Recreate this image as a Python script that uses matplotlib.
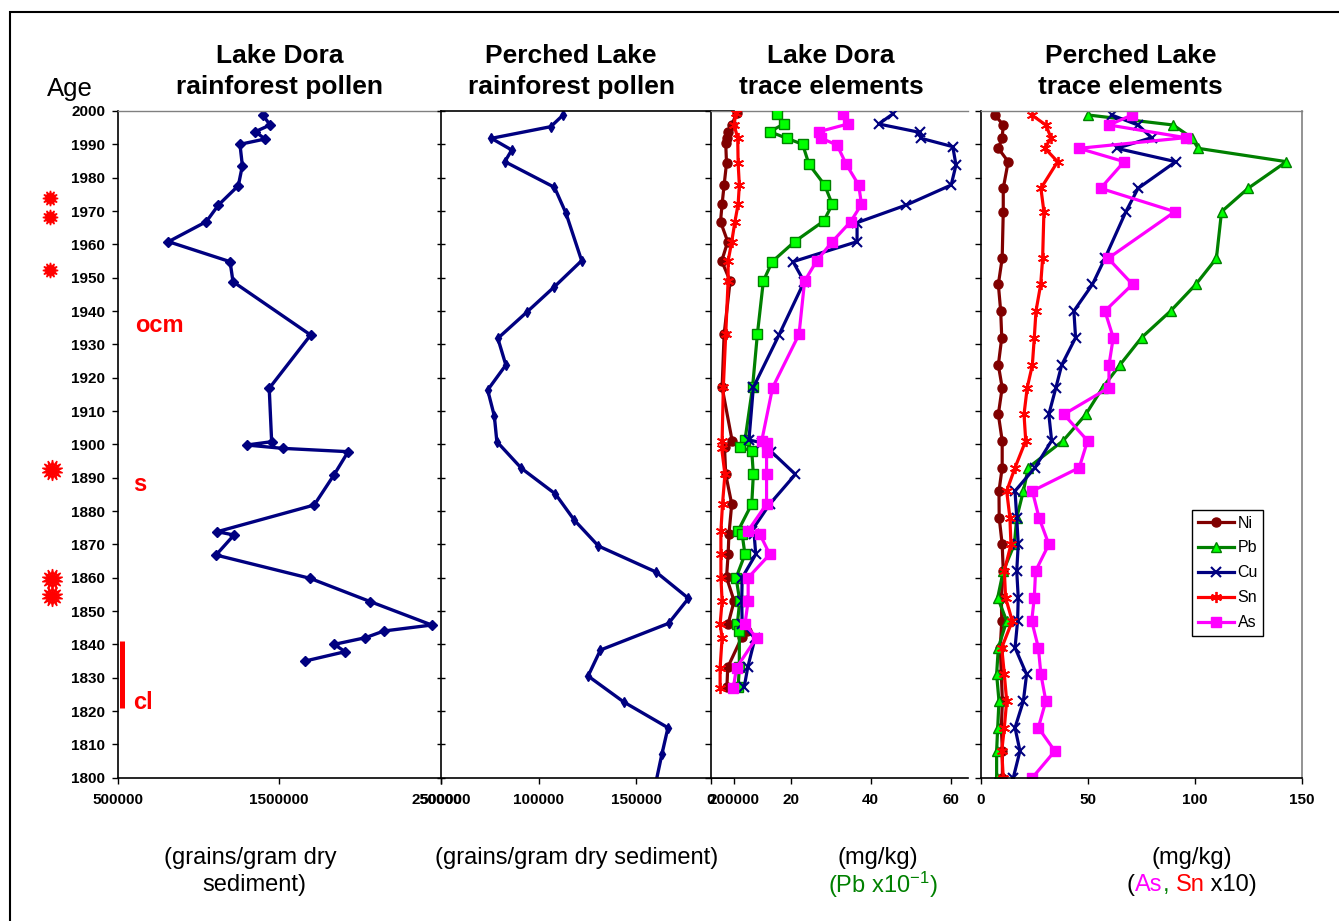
import matplotlib
matplotlib.use("Agg")
import matplotlib.pyplot as plt
from matplotlib.transforms import blended_transform_factory
from matplotlib.patches import Rectangle

plt.rcParams['font.family'] = ['Liberation Sans', 'DejaVu Sans']
plt.rcParams['mathtext.default'] = 'regular'

# ── Lake Dora rainforest pollen (grains/gram dry sediment) ──────────────
dora_pollen_year = [1998.8, 1995.8, 1993.8, 1991.6, 1990.0, 1983.6, 1977.6, 1971.8,
                    1966.8, 1960.8, 1954.8, 1948.8, 1932.8, 1916.8, 1900.8, 1899.8,
                    1898.8, 1897.8, 1890.8, 1881.8, 1873.8, 1872.8, 1866.8, 1859.8,
                    1852.8, 1845.8, 1844.0, 1842.0, 1840.0, 1837.8, 1835.0]
dora_pollen = [1399000, 1443000, 1352000, 1412000, 1257000, 1272000, 1247000, 1124000,
               1049000, 815000, 1196000, 1214000, 1694000, 1438000, 1453000, 1299000,
               1521000, 1926000, 1838000, 1716000, 1117000, 1220000, 1109000, 1691000,
               2064000, 2443000, 2146000, 2033000, 1840000, 1907000, 1660000]

# ── Perched Lake rainforest pollen ──────────────────────────────────────
perched_pollen_year = [1998.8, 1995.3, 1991.8, 1988.3, 1984.8, 1977.1, 1969.3, 1955.1,
                       1947.3, 1939.6, 1931.8, 1923.8, 1916.3, 1908.5, 1900.8, 1892.8,
                       1885.1, 1877.3, 1869.5, 1861.7, 1853.8, 1846.3, 1838.3, 1830.5,
                       1822.7, 1815.0, 1807.1, 1795.0]
perched_pollen = [112500, 106200, 75800, 86200, 82700, 108100, 114000, 122000,
                  108100, 93800, 79100, 83200, 73900, 77300, 78600, 91200,
                  108600, 118200, 130600, 160100, 176700, 166500, 131600, 125300,
                  143600, 166200, 163100, 158700]

# ── Lake Dora trace elements (mg/kg, Pb x10^-1) ─────────────────────────
dora_ni_year = [1999.3, 1995.8, 1993.8, 1991.8, 1990.3, 1984.3, 1977.8, 1972.1, 1966.8,
                1960.8, 1955.0, 1949.0, 1933.0, 1917.1, 1901.1, 1899.1, 1891.0, 1882.1,
                1873.0, 1867.0, 1860.1, 1853.0, 1846.1, 1844.1, 1842.1, 1833.1, 1827.1]
dora_ni = [6.5, 5.3, 4.3, 4.0, 3.8, 4.0, 3.4, 2.9, 2.5,
           4.3, 2.8, 4.9, 3.4, 2.9, 5.4, 3.5, 3.8, 5.3,
           4.6, 4.4, 4.0, 5.9, 4.4, 9.0, 7.8, 4.3, 4.1]

dora_pb_year = [1999.1, 1996.1, 1993.8, 1991.8, 1990.0, 1984.0, 1977.8, 1972.0, 1967.0,
                1960.8, 1954.8, 1949.0, 1933.0, 1917.1, 1901.2, 1899.1, 1898.1, 1891.0,
                1882.1, 1874.1, 1873.1, 1867.0, 1860.0, 1853.0, 1846.1, 1844.1, 1833.1,
                1827.1]
dora_pb = [16.7, 18.3, 14.8, 19.1, 23.0, 24.6, 28.5, 30.4, 28.3,
           21.0, 15.4, 13.2, 11.7, 10.5, 8.6, 7.3, 10.3, 10.7,
           10.3, 6.9, 7.9, 8.6, 6.4, 7.3, 6.7, 7.2, 7.2, 6.9]

dora_cu_year = [1999.1, 1996.1, 1993.6, 1991.8, 1989.3, 1983.8, 1977.8, 1971.8, 1966.5,
                1960.8, 1954.8, 1948.8, 1932.8, 1917.1, 1901.3, 1900.5, 1897.8, 1891.0,
                1882.1, 1874.1, 1873.0, 1867.0, 1860.0, 1853.0, 1846.1, 1841.8, 1833.1,
                1827.1]
dora_cu = [45.5, 42.0, 52.2, 52.6, 60.5, 61.3, 60.1, 48.9, 36.6,
           36.6, 20.6, 23.4, 17.1, 10.7, 9.6, 12.8, 15.2, 21.2,
           14.8, 10.3, 10.9, 11.3, 7.9, 7.8, 7.9, 11.1, 9.3, 8.4]

dora_sn_year = [1999.3, 1995.8, 1991.8, 1984.3, 1977.8, 1972.1, 1966.8, 1960.8, 1955.0,
                1949.0, 1933.0, 1917.1, 1901.1, 1898.8, 1891.0, 1882.1, 1874.0, 1867.0,
                1860.0, 1853.0, 1846.0, 1842.0, 1833.0, 1827.0]
dora_sn = [6.3, 5.9, 6.8, 6.9, 7.2, 6.9, 6.1, 5.3, 4.4,
           4.4, 3.8, 3.2, 2.9, 2.8, 3.6, 3.0, 2.6, 2.6,
           2.6, 2.9, 2.4, 2.9, 2.4, 2.4]

dora_as_year = [1999.1, 1996.1, 1993.8, 1991.8, 1989.8, 1984.0, 1977.8, 1972.0, 1966.8,
                1960.8, 1955.0, 1949.0, 1933.0, 1917.0, 1901.1, 1900.5, 1897.8, 1891.0,
                1882.1, 1874.1, 1873.1, 1867.0, 1860.0, 1853.0, 1846.0, 1842.0, 1833.0,
                1827.0]
dora_as = [33.1, 34.3, 27.1, 27.7, 31.6, 33.9, 37.0, 37.7, 35.0,
           30.4, 26.5, 23.5, 22.1, 15.5, 12.8, 14.0, 14.0, 14.0,
           14.0, 9.4, 12.3, 14.8, 9.4, 9.4, 8.6, 11.5, 6.5, 5.7]

# ── Perched Lake trace elements (mg/kg, As and Sn x10) ──────────────────
perched_year = [1998.8, 1995.8, 1992.0, 1988.8, 1984.8, 1976.8, 1969.8, 1955.8, 1948.0,
                1940.0, 1932.0, 1923.8, 1917.0, 1909.0, 1901.1, 1893.0, 1886.0, 1878.0,
                1870.0, 1862.0, 1854.0, 1847.0, 1839.0, 1831.0, 1823.0, 1815.0, 1808.0,
                1800.0]
perched_ni = [6.5, 10.4, 9.9, 8.1, 12.7, 10.4, 10.4, 9.9, 8.1,
              9.2, 9.7, 8.1, 9.9, 8.1, 9.9, 9.9, 8.4, 8.5,
              9.9, 10.4, 9.5, 9.7, 9.0, 9.5, 10.0, 9.5, 10.0, 10.0]
perched_pb = [50.1, 89.8, 98.4, 101.5, 142.7, 124.8, 112.4, 110.0, 100.4,
              88.6, 75.0, 64.9, 56.8, 49.0, 38.4, 22.1, 19.8, 16.7,
              15.6, 10.4, 7.8, 12.0, 8.1, 7.3, 8.4, 7.8, 7.3, 7.3]
perched_cu = [61.0, 73.4, 79.7, 63.4, 91.0, 73.4, 67.7, 57.9, 52.1,
              43.4, 44.2, 37.7, 35.0, 31.7, 33.0, 25.2, 15.9, 16.7,
              17.4, 16.7, 17.4, 17.1, 15.9, 21.3, 19.8, 15.9, 18.2, 15.1]
perched_sn = [23.7, 30.3, 32.7, 29.9, 35.8, 28.0, 29.4, 28.8, 27.9,
              25.7, 24.9, 24.0, 21.6, 20.1, 20.9, 15.9, 12.0, 13.5,
              14.0, 10.9, 11.5, 14.6, 9.7, 10.9, 12.0, 10.9, 9.7, 10.4]
perched_as = [70.6, 59.8, 95.6, 45.8, 66.9, 55.9, 90.6, 59.4, 70.8,
              57.9, 61.8, 59.8, 59.8, 38.7, 49.8, 45.9, 24.0, 27.1,
              31.7, 25.5, 24.9, 23.7, 26.8, 28.0, 30.3, 26.8, 34.5, 24.0]

# event markers on the age axis
star_years_small = [1973.9, 1968.2, 1952.2]
star_years_big = [1892.2, 1859.7, 1854.4]
cl_range = [1841, 1821]

age_ticks = list(range(1800, 2001, 10))
p1_ticks = [500000, 1500000, 2500000]
p1_labels = ["500000", "1500000", "2500000"]
p2_ticks = [50000, 100000, 150000, 200000]
p2_labels = ["50000", "100000", "150000", "200000"]
p3_ticks = [0, 20, 40, 60]
p4_ticks = [0, 50, 100, 150]

# ── Figure layout (pixel geometry of the original) ──────────────────────
W, H = 1339, 921
NAVY, DKRED, GREEN, LIME, MAG, RED = "#000080", "#800000", "#008000", "#00FF00", "#FF00FF", "#FF0000"
GREY = "#808080"


def fx(px):
    return px / W


def fy(py):
    return 1 - py / H


fig = plt.figure(figsize=(W / 100, H / 100), dpi=100)
TOP, BOT = 111, 777.7


def add_panel(x0, x1):
    return fig.add_axes([fx(x0), fy(BOT), (x1 - x0) / W, (BOT - TOP) / H])


ax1 = add_panel(117.5, 441)
ax2 = add_panel(441, 734)
ax3 = add_panel(710.5, 968)
ax4 = add_panel(981, 1302)

for ax in (ax1, ax2, ax3, ax4):
    ax.set_ylim(1800, 2000)
    ax.set_yticks(age_ticks)
    ax.set_facecolor("white")
    ax.tick_params(axis="x", direction="out", length=4, width=1, pad=7, labelsize=11)
    ax.tick_params(axis="y", direction="out", length=4, width=1, labelsize=11)
    for s in ax.spines.values():
        s.set_linewidth(1.2)

# Panel 1
ax1.plot(dora_pollen, dora_pollen_year, "-D", color=NAVY, lw=2.4, ms=5.5)
ax1.set_xlim(500000, 2500000)
ax1.set_xticks(p1_ticks)
ax1.set_xticklabels(p1_labels)
ax1.spines["right"].set_visible(False)
ax1.spines["top"].set_color(GREY)
ax1.spines["top"].set_linewidth(1)
ax1.tick_params(axis="y", pad=5)
for lab in ax1.get_xticklabels() + ax1.get_yticklabels():
    lab.set_fontweight("bold")

# Panel 2
ax2.plot(perched_pollen, perched_pollen_year, "-d", color=NAVY, lw=2.4, ms=5.5)
ax2.set_xlim(50000, 200000)
ax2.set_xticks(p2_ticks)
ax2.set_xticklabels(p2_labels)
ax2.tick_params(axis="y", direction="inout", labelleft=False, length=6)
ax2.spines["right"].set_visible(False)
for lab in ax2.get_xticklabels():
    lab.set_fontweight("bold")
    lab.set_fontsize(11)
    lab.set_family(["Liberation Sans Narrow", "Liberation Sans"])

# Panel 3
ax3.plot(dora_ni, dora_ni_year, "-o", color=DKRED, lw=2.3, ms=6.5, zorder=3)
ax3.plot(dora_pb, dora_pb_year, "-s", color=GREEN, mfc=LIME, mec=GREEN, mew=1, lw=2.3, ms=6.5, zorder=4)
ax3.plot(dora_cu, dora_cu_year, "-x", color=NAVY, lw=2.3, ms=7, mew=1.5, zorder=5)
ax3.plot(dora_sn, dora_sn_year, "-", marker=(6, 2, 0), color=RED, lw=2.3, ms=8, mew=1.3, zorder=6)
ax3.plot(dora_as, dora_as_year, "-s", color=MAG, lw=2.3, ms=6.5, zorder=7)
ax3.set_xlim(0, 64.3)
ax3.set_xticks(p3_ticks)
ax3.tick_params(axis="y", labelleft=False)
ax3.spines["right"].set_visible(False)
ax3.spines["top"].set_color(GREY)
ax3.spines["top"].set_linewidth(1)
for lab in ax3.get_xticklabels():
    lab.set_fontweight("bold")

# Panel 4
l_ni, = ax4.plot(perched_ni, perched_year, "-o", color=DKRED, lw=2.3, ms=6.5, label="Ni")
l_pb, = ax4.plot(perched_pb, perched_year, "-^", color=GREEN, mfc=LIME, mec=GREEN, mew=1, lw=2.3, ms=7, label="Pb")
l_cu, = ax4.plot(perched_cu, perched_year, "-x", color=NAVY, lw=2.3, ms=7, mew=1.5, label="Cu")
l_sn, = ax4.plot(perched_sn, perched_year, "-", marker=(6, 2, 0), color=RED, lw=2.3, ms=8, mew=1.3, label="Sn")
l_as, = ax4.plot(perched_as, perched_year, "-s", color=MAG, lw=2.3, ms=6.5, label="As")
ax4.set_xlim(0, 150)
ax4.set_xticks(p4_ticks)
ax4.tick_params(axis="y", labelleft=False)
ax4.spines["right"].set_color(GREY)
ax4.spines["top"].set_color(GREY)
ax4.spines["top"].set_linewidth(1)
for lab in ax4.get_xticklabels():
    lab.set_fontweight("bold")

leg = ax4.legend(handles=[l_ni, l_pb, l_cu, l_sn, l_as], loc="upper left",
                 bbox_to_anchor=(fx(1192), fy(510)), bbox_transform=fig.transFigure,
                 fontsize=11.5, handlelength=2.3, handletextpad=0.2, borderpad=0.35,
                 labelspacing=0.62, borderaxespad=0, fancybox=False, framealpha=1)
leg.get_frame().set_edgecolor("black")
leg.get_frame().set_linewidth(1)

# ── Titles ───────────────────────────────────────────────────────────────
titles = [(279.5, "Lake Dora", "rainforest pollen"),
          (571, "Perched Lake", "rainforest pollen"),
          (831, "Lake Dora", "trace elements"),
          (1130.5, "Perched Lake", "trace elements")]
for cx, t1, t2 in titles:
    fig.text(fx(cx), fy(56), t1, ha="center", va="center", fontsize=19, fontweight="bold")
    fig.text(fx(cx), fy(87), t2, ha="center", va="center", fontsize=19, fontweight="bold")
fig.text(fx(70), fy(89), "Age", ha="center", va="center", fontsize=18.5)

# ── Bottom axis captions ────────────────────────────────────────────────
fig.text(fx(250), fy(858), "(grains/gram dry", ha="center", va="center", fontsize=17)
fig.text(fx(254), fy(885), "sediment)", ha="center", va="center", fontsize=17)
fig.text(fx(577), fy(858), "(grains/gram dry sediment)", ha="center", va="center", fontsize=17)
fig.text(fx(878), fy(858), "(mg/kg)", ha="center", va="center", fontsize=17)
fig.text(fx(883), fy(885), "(Pb x10$^{-1}$)", ha="center", va="center", fontsize=17, color=GREEN)
fig.text(fx(1192), fy(858), "(mg/kg)", ha="center", va="center", fontsize=17)

renderer = fig.canvas.get_renderer()
parts = [("(", "black"), ("As", MAG), (",", GREEN), (" ", "black"), ("Sn", RED), (" x10)", "black")]
pieces = [fig.text(0, fy(885), s, color=c, ha="left", va="center", fontsize=17) for s, c in parts]
widths = [p.get_window_extent(renderer).width for p in pieces]
widths[3] = 17 * 100 / 72 * 0.278
x = 1192 - sum(widths) / 2
for p, w in zip(pieces, widths):
    p.set_x(fx(x))
    x += w

# ── Event annotations on the age axis ───────────────────────────────────
tr = blended_transform_factory(fig.transFigure, ax1.transData)
ax1.plot([fx(50)] * len(star_years_small), star_years_small, ls="none", marker=(12, 1, 0),
         ms=11, color=RED, transform=tr, clip_on=False)
ax1.plot([fx(52)] * len(star_years_big), star_years_big, ls="none", marker=(14, 1, 0),
         ms=15, color=RED, transform=tr, clip_on=False)
ax1.plot([fx(122)] * 2, cl_range, color=RED, lw=3.6, transform=tr, clip_on=False,
         solid_capstyle="butt")
fig.text(fx(159), fy(325), "ocm", ha="center", va="center", fontsize=17, fontweight="bold", color=RED)
fig.text(fx(140), fy(484), "s", ha="center", va="center", fontsize=17, fontweight="bold", color=RED)
fig.text(fx(143), fy(702), "cl", ha="center", va="center", fontsize=17, fontweight="bold", color=RED)

# outer frame (only left and top edges fall inside the picture)
fig.patches.append(Rectangle((fx(10), fy(940)), fx(1350), (940 - 12) / H, transform=fig.transFigure,
                             fill=False, edgecolor="black", lw=1.5))

fig.savefig("out.png", dpi=100)
